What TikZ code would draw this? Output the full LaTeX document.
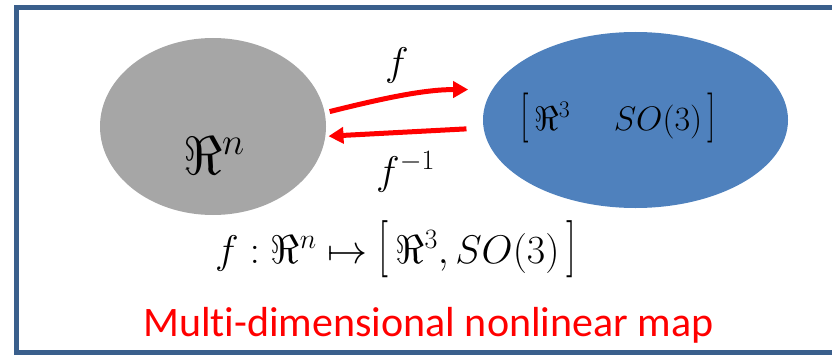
\RequirePackage{fix-cm}
\documentclass[tikz,border=0pt]{standalone}
\usepackage{amsmath,amssymb,graphicx}
\usepackage{fontspec}
\setsansfont[Ligatures=NoCommon]{Carlito}
\usetikzlibrary{shapes.geometric,arrows.meta,positioning}
\definecolor{framecol}{HTML}{3A5F8C}
\definecolor{spacegray}{HTML}{A6A6A6}
\definecolor{spaceblue}{HTML}{4F81BD}
\newcommand{\lbrk}[1]{\mathopen{\scalebox{1}[#1]{$[$}}}
\newcommand{\rbrk}[1]{\mathclose{\scalebox{1}[#1]{$]$}}}
\tikzset{
  space/.style={ellipse, draw=none, inner sep=0pt},
  maparrow/.style={-{Triangle[length=15pt,width=16pt]}, red, line width=5pt},
  mathlbl/.style={anchor=base west, inner sep=0pt},
}

\begin{document}
\begin{tikzpicture}[x=1pt, y=1pt]
\useasboundingbox (0,0) rectangle (832,357);
\draw[framecol, line width=5pt] (850,349.5) -- (16.5,349.5) -- (16.5,4.5) -- (850,4.5);
% the two spaces
\node[space, fill=spacegray, minimum width=226pt, minimum height=177pt] (rn) at (213,230.5) {};
\node[space, fill=spaceblue, minimum width=305pt, minimum height=176pt] (se3) at (635.5,237) {};
\node[mathlbl, font=\fontsize{54}{60}\selectfont] (rnlbl) at (183,183) {$\Re^{n}$};
\node[mathlbl, font=\fontsize{34}{40}\selectfont] (se3lbl) at (520,227) {$\lbrk{1.47}\,\Re^{3}\quad\; SO(3)\,\rbrk{1.47}$};
% forward and inverse map
\draw[maparrow, shorten <=5pt, shorten >=24pt] (rn.7) to[out=14, in=180] (se3.168);
\draw[maparrow, shorten <=17pt, shorten >=3pt] (se3.183) -- (rn.-5);
\node[mathlbl, font=\fontsize{40}{48}\selectfont] (flbl) at (385,282) {$f$};
\node[mathlbl, font=\fontsize{40}{48}\selectfont] (finvlbl) at (376,173) {$f^{-1}$};
\node[mathlbl, font=\fontsize{40}{48}\selectfont] (maplbl) at (215,94) {$f:\Re^{n}\mapsto\lbrk{1.43}\,\Re^{3},SO(3)\,\rbrk{1.43}$};
\node[anchor=base west, inner sep=0pt, red, font=\sffamily\fontsize{42}{50}\selectfont] (title) at (143,21) {Multi-dimensional nonlinear map};
\end{tikzpicture}
\end{document}
